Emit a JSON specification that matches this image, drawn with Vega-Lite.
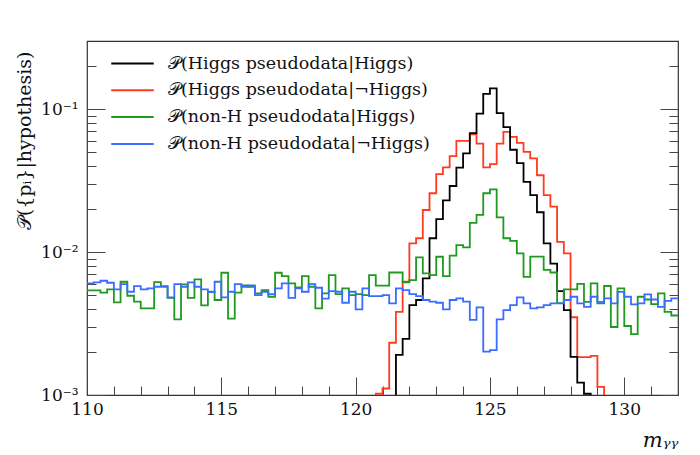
{
  "$schema": "https://vega.github.io/schema/vega-lite/v6.json",
  "width": 591,
  "height": 354,
  "autosize": {"type": "none"},
  "padding": {"left": 87, "top": 41, "right": 22, "bottom": 60},
  "background": "white",
  "config": {
    "view": {"stroke": "#333333", "strokeWidth": 1.2},
    "font": "DejaVu Serif",
    "axis": {"domain": false, "grid": false, "tickColor": "#444444", "tickWidth": 1, "labelColor": "#111111", "titleColor": "#111111", "labelFont": "DejaVu Serif", "titleFont": "DejaVu Serif", "titleFontWeight": "normal"}
  },
  "data": {
    "values": [
      {"m": 110, "nh": 0.0054, "nn": 0.00604},
      {"m": 110.25, "nh": 0.0054, "nn": 0.00613},
      {"m": 110.5, "nh": 0.0052, "nn": 0.0063},
      {"m": 110.75, "nh": 0.00548, "nn": 0.0061},
      {"m": 111, "nh": 0.00445, "nn": 0.00548},
      {"m": 111.25, "nh": 0.0062, "nn": 0.00597},
      {"m": 111.5, "nh": 0.00495, "nn": 0.00528},
      {"m": 111.75, "nh": 0.0045, "nn": 0.00578},
      {"m": 112, "nh": 0.00404, "nn": 0.00548},
      {"m": 112.25, "nh": 0.00404, "nn": 0.00557},
      {"m": 112.5, "nh": 0.00617, "nn": 0.00572},
      {"m": 112.75, "nh": 0.00578, "nn": 0.00572},
      {"m": 113, "nh": 0.00479, "nn": 0.00482},
      {"m": 113.25, "nh": 0.00338, "nn": 0.00597},
      {"m": 113.5, "nh": 0.00594, "nn": 0.00572},
      {"m": 113.75, "nh": 0.00479, "nn": 0.00613},
      {"m": 114, "nh": 0.00644, "nn": 0.00572},
      {"m": 114.25, "nh": 0.00424, "nn": 0.00548},
      {"m": 114.5, "nh": 0.00528, "nn": 0.00525},
      {"m": 114.75, "nh": 0.00462, "nn": 0.0062},
      {"m": 115, "nh": 0.00717, "nn": 0.00482},
      {"m": 115.25, "nh": 0.00342, "nn": 0.00528},
      {"m": 115.5, "nh": 0.0052, "nn": 0.00597},
      {"m": 115.75, "nh": 0.00585, "nn": 0.00572},
      {"m": 116, "nh": 0.00572, "nn": 0.00585},
      {"m": 116.25, "nh": 0.00514, "nn": 0.005},
      {"m": 116.5, "nh": 0.00542, "nn": 0.00528},
      {"m": 116.75, "nh": 0.00487, "nn": 0.00508},
      {"m": 117, "nh": 0.00717, "nn": 0.00557},
      {"m": 117.25, "nh": 0.0068, "nn": 0.00604},
      {"m": 117.5, "nh": 0.00604, "nn": 0.00479},
      {"m": 117.75, "nh": 0.00566, "nn": 0.00557},
      {"m": 118, "nh": 0.0068, "nn": 0.00528},
      {"m": 118.25, "nh": 0.00572, "nn": 0.00597},
      {"m": 118.5, "nh": 0.00404, "nn": 0.00563},
      {"m": 118.75, "nh": 0.00514, "nn": 0.00472},
      {"m": 119, "nh": 0.0069, "nn": 0.00534},
      {"m": 119.25, "nh": 0.00508, "nn": 0.00528},
      {"m": 119.5, "nh": 0.00557, "nn": 0.00442},
      {"m": 119.75, "nh": 0.005, "nn": 0.00528},
      {"m": 120, "nh": 0.00508, "nn": 0.00397},
      {"m": 120.25, "nh": 0.005, "nn": 0.00557},
      {"m": 120.5, "hn": 0.0005, "nh": 0.0069, "nn": 0.00492},
      {"m": 120.75, "hn": 0.00102, "nh": 0.00582, "nn": 0.00492},
      {"m": 121, "hn": 0.00111, "nh": 0.00582, "nn": 0.005},
      {"m": 121.25, "hh": 0.0005, "hn": 0.00232, "nh": 0.0072, "nn": 0.00438},
      {"m": 121.5, "hh": 0.00191, "hn": 0.00382, "nh": 0.0072, "nn": 0.00557},
      {"m": 121.75, "hh": 0.00247, "hn": 0.0062, "nh": 0.00614, "nn": 0.00542},
      {"m": 122, "hh": 0.00426, "hn": 0.0115, "nh": 0.00637, "nn": 0.00508},
      {"m": 122.25, "hh": 0.00462, "hn": 0.0125, "nh": 0.00918, "nn": 0.00492},
      {"m": 122.5, "hh": 0.00655, "hn": 0.0197, "nh": 0.00709, "nn": 0.00462},
      {"m": 122.75, "hh": 0.0125, "hn": 0.0258, "nh": 0.0069, "nn": 0.0045},
      {"m": 123, "hh": 0.017, "hn": 0.0351, "nh": 0.00928, "nn": 0.00442},
      {"m": 123.25, "hh": 0.023, "hn": 0.0391, "nh": 0.0068, "nn": 0.00397},
      {"m": 123.5, "hh": 0.029, "hn": 0.0469, "nh": 0.00945, "nn": 0.00462},
      {"m": 123.75, "hh": 0.039, "hn": 0.06, "nh": 0.0112, "nn": 0.00474},
      {"m": 124, "hh": 0.049, "hn": 0.06, "nh": 0.0108, "nn": 0.0045},
      {"m": 124.25, "hh": 0.068, "hn": 0.0668, "nh": 0.016, "nn": 0.00335},
      {"m": 124.5, "hh": 0.093, "hn": 0.0575, "nh": 0.0182, "nn": 0.0041},
      {"m": 124.75, "hh": 0.128, "hn": 0.0391, "nh": 0.0258, "nn": 0.00201},
      {"m": 125, "hh": 0.14, "hn": 0.0412, "nh": 0.0275, "nn": 0.00206},
      {"m": 125.25, "hh": 0.094, "hn": 0.0575, "nh": 0.0175, "nn": 0.00338},
      {"m": 125.5, "hh": 0.075, "hn": 0.0693, "nh": 0.0125, "nn": 0.00393},
      {"m": 125.75, "hh": 0.052, "hn": 0.064, "nh": 0.012, "nn": 0.00426},
      {"m": 126, "hh": 0.042, "hn": 0.0581, "nh": 0.0098, "nn": 0.00482},
      {"m": 126.25, "hh": 0.031, "hn": 0.0503, "nh": 0.0067, "nn": 0.00438},
      {"m": 126.5, "hh": 0.025, "hn": 0.0452, "nh": 0.0093, "nn": 0.00404},
      {"m": 126.75, "hh": 0.019, "hn": 0.0345, "nh": 0.0093, "nn": 0.0041},
      {"m": 127, "hh": 0.0115, "hn": 0.025, "nh": 0.0075, "nn": 0.00426},
      {"m": 127.25, "hh": 0.0083, "hn": 0.0208, "nh": 0.0072, "nn": 0.00438},
      {"m": 127.5, "hh": 0.00533, "hn": 0.0118, "nh": 0.0044, "nn": 0.00438},
      {"m": 127.75, "hh": 0.00393, "hn": 0.0098, "nh": 0.00548, "nn": 0.00462},
      {"m": 128, "hh": 0.00185, "hn": 0.0035, "nh": 0.00548, "nn": 0.00487},
      {"m": 128.25, "hh": 0.00122, "hn": 0.00184, "nh": 0.006, "nn": 0.00438},
      {"m": 128.5, "hh": 0.00102, "hn": 0.00184, "nh": 0.00449, "nn": 0.00414},
      {"m": 128.75, "hh": 0.0005, "hn": 0.00188, "nh": 0.00604, "nn": 0.00487},
      {"m": 129, "hn": 0.00114, "nh": 0.00438, "nn": 0.00449},
      {"m": 129.25, "hn": 0.0005, "nh": 0.00579, "nn": 0.00474},
      {"m": 129.5, "nh": 0.00299, "nn": 0.00438},
      {"m": 129.75, "nh": 0.00557, "nn": 0.00527},
      {"m": 130, "nh": 0.00304, "nn": 0.00487},
      {"m": 130.25, "nh": 0.00267, "nn": 0.0043},
      {"m": 130.5, "nh": 0.00487, "nn": 0.00438},
      {"m": 130.75, "nh": 0.00466, "nn": 0.00506},
      {"m": 131, "nh": 0.00432, "nn": 0.00466},
      {"m": 131.25, "nh": 0.00514, "nn": 0.00414},
      {"m": 131.5, "nh": 0.00382, "nn": 0.00456},
      {"m": 131.75, "nh": 0.0036, "nn": 0.00474},
      {"m": 132, "nh": 0.0036, "nn": 0.00474}
    ]
  },
  "transform": [
    {"fold": ["hh", "hn", "nh", "nn"], "as": ["series", "p"]},
    {"filter": "datum.p > 0"}
  ],
  "layer": [
    {
      "transform": [{"filter": "datum.series === 'hh' || datum.series === 'hn'"}],
      "mark": {"type": "line", "interpolate": "step-after", "strokeWidth": 1.8, "clip": true},
      "encoding": {
        "x": {
          "field": "m", "type": "quantitative",
          "scale": {"domain": [110, 132], "nice": false, "zero": false},
          "axis": {
            "orient": "bottom",
            "values": [110, 111, 112, 113, 114, 115, 116, 117, 118, 119, 120, 121, 122, 123, 124, 125, 126, 127, 128, 129, 130, 131, 132],
            "tickSize": {"condition": {"test": "datum.value % 5 === 0", "value": -18}, "value": -9},
            "labelExpr": "datum.value % 5 === 0 ? datum.label : ''",
            "labelPadding": 24,
            "labelFontSize": 17,
            "labelFlush": false,
            "labelOverlap": false,
            "title": "mᵧᵧ",
            "titleFontStyle": "italic",
            "titleFontSize": 21,
            "titleX": 591,
            "titleY": 45,
            "titleAlign": "right",
            "titleBaseline": "middle"
          }
        },
        "y": {
          "field": "p", "type": "quantitative",
          "scale": {"type": "log", "domain": [0.001, 0.3], "nice": false},
          "axis": {
            "orient": "left",
            "values": [0.001, 0.002, 0.003, 0.004, 0.005, 0.006, 0.007, 0.008, 0.009, 0.01, 0.02, 0.03, 0.04, 0.05, 0.06, 0.07, 0.08, 0.09, 0.1, 0.2],
            "tickSize": {"condition": {"test": "datum.value === 0.001 || datum.value === 0.01 || datum.value === 0.1", "value": -18}, "value": -9},
            "labelExpr": "datum.value === 0.001 ? '10⁻³' : datum.value === 0.01 ? '10⁻²' : datum.value === 0.1 ? '10⁻¹' : ''",
            "labelPadding": 27,
            "labelFontSize": 17,
            "labelFlush": false,
            "labelOverlap": false,
            "title": "𝒫({pᵢ}|hypothesis)",
            "titleFontSize": 19,
            "titleAngle": -90,
            "titleX": -63,
            "titleY": 10,
            "titleAlign": "right",
            "titleBaseline": "middle"
          }
        },
        "color": {
          "field": "series", "type": "nominal",
          "scale": {"domain": ["hh", "hn", "nh", "nn"], "range": ["#000000", "#ff3b1d", "#1f9a1f", "#3a6cff"]},
          "legend": {
            "orient": "none",
            "legendX": 36,
            "legendY": 13,
            "title": null,
            "padding": 0,
            "symbolType": "M-2.5,0H2.5",
            "symbolSize": 289,
            "symbolStrokeWidth": 2,
            "labelOffset": 26,
            "rowPadding": 8.8,
            "labelFontSize": 17.5,
            "labelFont": "DejaVu Serif",
            "labelColor": "#111111",
            "labelLimit": 0,
            "labelExpr": "datum.label === 'hh' ? '𝒫(Higgs pseudodata|Higgs)' : datum.label === 'hn' ? '𝒫(Higgs pseudodata|¬Higgs)' : datum.label === 'nh' ? '𝒫(non-H pseudodata|Higgs)' : '𝒫(non-H pseudodata|¬Higgs)'"
          }
        }
      }
    },
    {
      "transform": [{"filter": "datum.series === 'nh' || datum.series === 'nn'"}],
      "mark": {"type": "line", "interpolate": "step-after", "strokeWidth": 1.8, "clip": true},
      "encoding": {
        "x": {"field": "m", "type": "quantitative", "axis": null},
        "y": {
          "field": "p", "type": "quantitative",
          "axis": {
            "orient": "right",
            "values": [0.001, 0.002, 0.003, 0.004, 0.005, 0.006, 0.007, 0.008, 0.009, 0.01, 0.02, 0.03, 0.04, 0.05, 0.06, 0.07, 0.08, 0.09, 0.1, 0.2],
            "tickSize": {"condition": {"test": "datum.value === 0.001 || datum.value === 0.01 || datum.value === 0.1", "value": -18}, "value": -9},
            "labels": false,
            "title": null
          }
        },
        "color": {"field": "series", "type": "nominal"}
      }
    }
  ],
  "resolve": {"axis": {"x": "independent", "y": "independent"}}
}
